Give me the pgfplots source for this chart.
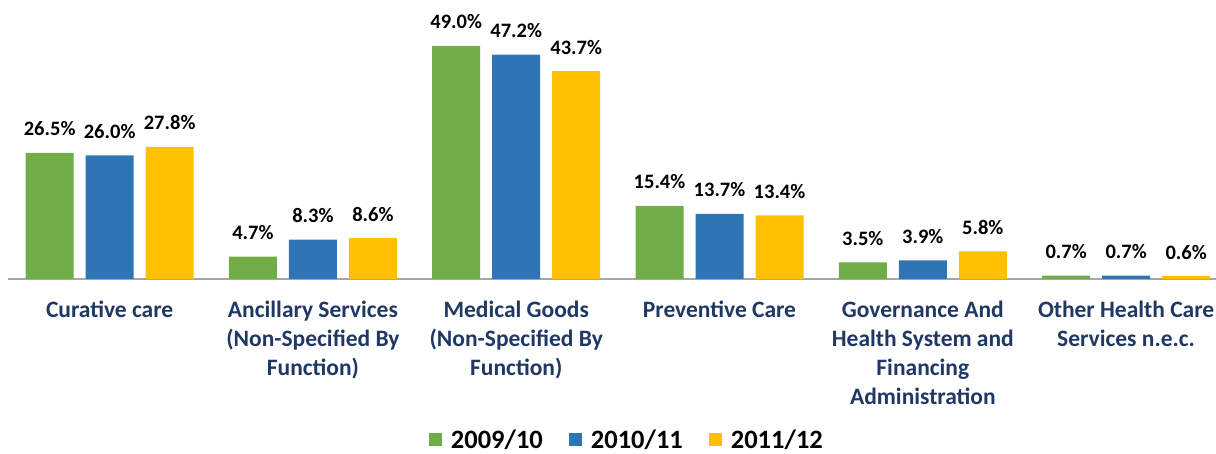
\documentclass[border=0pt]{standalone}
\usepackage{pgfplots}
\pgfplotsset{compat=1.18}
\usepackage{fontspec}
\setmainfont{Carlito}
\definecolor{cgreen}{HTML}{70AD47}
\definecolor{cblue}{HTML}{2E75B6}
\definecolor{cgold}{HTML}{FFC000}
\definecolor{cnavy}{HTML}{1F3864}
\definecolor{caxis}{HTML}{A6A6A6}
\begin{document}
\begin{tikzpicture}[x=1pt,y=1pt]
\begin{axis}[
  scale only axis,
  width=1208pt, height=279pt,
  xmin=-0.5, xmax=5.442,
  ymin=0, ymax=58.67,
  ybar=12pt, bar width=48pt,
  axis x line*=bottom, axis y line=none,
  x axis line style={draw=caxis, line width=1.2pt},
  xtick=data, xtick style={draw=none},
  xticklabels={Curative care,
    {Ancillary Services\\(Non-Specified By\\Function)},
    {Medical Goods\\(Non-Specified By\\Function)},
    Preventive Care,
    {Governance And\\Health System and\\Financing\\Administration},
    {Other Health Care\\Services n.e.c.}},
  xticklabel style={align=center, font=\fontsize{23.5}{29}\selectfont\bfseries, text=cnavy, anchor=north, inner sep=0pt, yshift=-18pt},
  ytick=\empty,
  clip=false,
  nodes near coords={\pgfmathprintnumber[fixed,fixed zerofill,precision=1,assume math mode=true]{\pgfplotspointmeta}\%},
  every node near coord/.append style={font=\fontsize{20.5}{22}\selectfont\bfseries, text=black, anchor=base, inner sep=0pt, yshift=17pt},
  legend columns=3,
  legend style={draw=none, fill=none, at={(0.5115,-0.577)}, anchor=center, font=\fontsize{26.5}{28}\selectfont\bfseries,
    nodes={inner sep=0pt},
    /tikz/every odd column/.append style={column sep=9pt},
    /tikz/every even column/.append style={column sep=26pt}},
  legend image code/.code={\fill[#1] (0pt,-6.5pt) rectangle (13pt,6.5pt);},
]
\addplot[fill=cgreen, draw=none] coordinates {(0,26.5) (1,4.7) (2,49.0) (3,15.4) (4,3.5) (5,0.7)};
\addplot[fill=cblue, draw=none] coordinates {(0,26.0) (1,8.3) (2,47.2) (3,13.7) (4,3.9) (5,0.7)};
\addplot[fill=cgold, draw=none] coordinates {(0,27.8) (1,8.6) (2,43.7) (3,13.4) (4,5.8) (5,0.6)};
\legend{2009/10, 2010/11, 2011/12}
\coordinate (bl) at (axis cs:-0.5,0);
\end{axis}
\pgfresetboundingbox
\path[use as bounding box] ([xshift=-8pt,yshift=-175pt]bl) rectangle ([xshift=1208pt,yshift=279pt]bl);
\end{tikzpicture}
\end{document}
